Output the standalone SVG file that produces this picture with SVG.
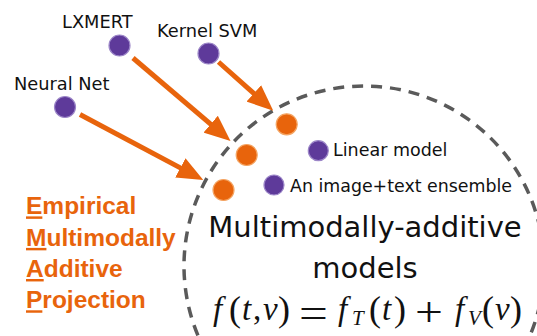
<svg xmlns="http://www.w3.org/2000/svg" width="537" height="336" viewBox="0 0 537 336">
  <style>
    .lbl { font-family: "DejaVu Sans", "Liberation Sans", sans-serif; fill: #111; }
    .big { font-family: "DejaVu Sans", "Liberation Sans", sans-serif; fill: #111; font-size: 29px; text-anchor: middle; }
    .emap { font-family: "Liberation Sans", Arial, sans-serif; font-weight: bold; font-size: 24.5px; fill: #E8640C; }
    .ul { text-decoration: underline; }
    .purple { fill: #5E3A9A; stroke: #9C86C8; stroke-width: 1.2; }
    .orange { fill: #E8640C; stroke: #F4A462; stroke-width: 1.2; }
    .arrow { stroke: #E8640C; stroke-width: 5; fill: none; marker-end: url(#head); }
    .region { fill: none; stroke: #5A5A5A; stroke-width: 3.5; stroke-dasharray: 11 8; }
    .math { font-family: "Liberation Serif", "Times New Roman", serif; font-size: 33px; fill: #111; }
    .it { font-style: italic; }
    .par { font-size: 36px; }
    .sub { font-size: 21px; font-style: italic; }
  </style>
  <defs>
    <marker id="head" markerUnits="userSpaceOnUse" viewBox="0 0 26 22" markerWidth="26" markerHeight="22" refX="8" refY="11" orient="auto">
      <path d="M0,0 L26,11 L0,22 z" fill="#E8640C"/>
    </marker>
  </defs>

  <g id="region-circle">
    <circle class="region" cx="364" cy="266" r="180"/>
  </g>

  <g id="connectors">
    <line class="arrow" x1="133" y1="58" x2="216.8" y2="129.3"/>
    <line class="arrow" x1="218.5" y1="62" x2="259.8" y2="98.7"/>
    <line class="arrow" x1="80" y1="114.5" x2="187.4" y2="171.6"/>
  </g>

  <g id="node-lxmert">
    <circle class="purple" cx="119.5" cy="45.5" r="10.5"/>
    <text class="lbl" x="62" y="27.5" font-size="17.8">LXMERT</text>
  </g>
  <g id="node-kernel-svm">
    <circle class="purple" cx="208.5" cy="53.5" r="10.5"/>
    <text class="lbl" x="157" y="37.3" font-size="17.8">Kernel SVM</text>
  </g>
  <g id="node-neural-net">
    <circle class="purple" cx="65" cy="107" r="10.5"/>
    <text class="lbl" x="14" y="89.5" font-size="17.8">Neural Net</text>
  </g>

  <g id="node-proj-kernel">
    <circle class="orange" cx="286.7" cy="124.3" r="10.5"/>
  </g>
  <g id="node-proj-lxmert">
    <circle class="orange" cx="246.7" cy="155" r="10.5"/>
  </g>
  <g id="node-proj-neural">
    <circle class="orange" cx="223.5" cy="190" r="10.5"/>
  </g>

  <g id="node-linear-model">
    <circle class="purple" cx="318.3" cy="150.7" r="10"/>
    <text class="lbl" x="333" y="156" font-size="17.5">Linear model</text>
  </g>
  <g id="node-ensemble">
    <circle class="purple" cx="274" cy="185" r="10"/>
    <text class="lbl" x="290" y="191.5" font-size="17.4">An image+text ensemble</text>
  </g>

  <g id="node-title">
    <text class="big" x="365" y="236.7">Multimodally-additive</text>
    <text class="big" x="365" y="278.3">models</text>
  </g>

  <g id="node-formula">
    <text class="math" y="320">
      <tspan class="it" x="213">f</tspan><tspan class="par" x="229" y="321">(</tspan><tspan class="it" x="242" y="320">t</tspan><tspan x="253">,</tspan><tspan class="it" x="263">v</tspan><tspan class="par" x="278" y="321">)</tspan>
      <tspan class="it" x="338" y="320">f</tspan><tspan class="sub" x="352" y="325">T</tspan><tspan class="par" x="369" y="321">(</tspan><tspan class="it" x="382" y="320">t</tspan><tspan class="par" x="394" y="321">)</tspan>
      <tspan class="it" x="455" y="320">f</tspan><tspan class="sub" x="468" y="325">V</tspan><tspan class="par" x="482" y="321">(</tspan><tspan class="it" x="495" y="320">v</tspan><tspan class="par" x="510" y="321">)</tspan>
    </text>
    <text class="math" transform="translate(313.5,327) scale(1.55,1.3)" x="0" y="0" text-anchor="middle">=</text>
    <text class="math" transform="translate(429,326) scale(1.5,1.25)" x="0" y="0" text-anchor="middle">+</text>
  </g>

  <g id="node-emap">
    <text class="emap" x="26" y="214.4"><tspan class="ul">E</tspan>mpirical</text>
    <text class="emap" x="26" y="245.9"><tspan class="ul">M</tspan>ultimodally</text>
    <text class="emap" x="26" y="277"><tspan class="ul">A</tspan>dditive</text>
    <text class="emap" x="26" y="308.3"><tspan class="ul">P</tspan>rojection</text>
  </g>
</svg>
